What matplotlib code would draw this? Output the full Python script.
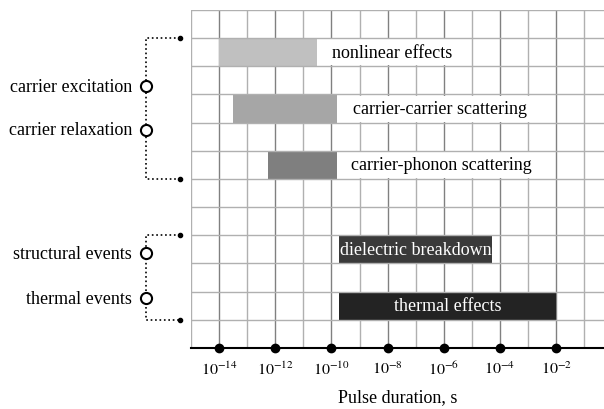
import matplotlib
matplotlib.use("Agg")
import matplotlib.pyplot as plt
import numpy as np

# 数据: 各过程的时间范围 (log10 秒)
processes = ['nonlinear effects', 'carrier-carrier scattering', 'carrier-phonon scattering',
             'dielectric breakdown', 'thermal effects']
start_exp = [-14.0, -13.5, -12.25, -9.73, -9.73]
end_exp = [-10.5, -9.8, -9.8, -4.3, -2.0]
row_y = [10, 8, 6, 3, 1]
bar_colors = ['#c0c0c0', '#a6a6a6', '#7f7f7f', '#3a3a3a', '#232323']
label_exp = [-9.98, -9.23, -9.3, -9.68, -5.85]
label_ha = ['left', 'left', 'left', 'left', 'center']
label_color = ['black', 'black', 'black', 'white', 'white']
label_box = [True, True, True, False, False]

# 左侧分组
group_labels = [['carrier excitation', 'carrier relaxation'],
                ['structural events', 'thermal events']]
group_label_y = [[9.3, 7.74], [3.37, 1.77]]
group_span = [(11, 6), (4, 1)]

tick_exp = [-14, -12, -10, -8, -6, -4, -2]
tick_labels = [r'$10^{%d}$' % e for e in tick_exp]

plt.rcParams['font.family'] = ['Liberation Serif', 'DejaVu Serif']
plt.rcParams['mathtext.fontset'] = 'stix'

fig = plt.figure(figsize=(6.04, 4.10), dpi=100)
ax = fig.add_axes([0.3162, 0.1488, 0.6838, 0.8244])
ax.set_xscale('log')
xmin, xmax = 1e-15, 10 ** -0.3
ax.set_xlim(xmin, xmax)
ax.set_ylim(0, 12)

# 网格
for e in range(-15, 0):
    c = '#808080' if e % 2 == 0 else '#b0b0b0'
    ax.axvline(10.0 ** e, color=c, lw=1.0, zorder=1)
for y in range(1, 13):
    ax.axhline(y, color='#b0b0b0', lw=1.0, zorder=4)

# 条形
for i in range(len(processes)):
    left = 10.0 ** start_exp[i]
    ax.barh(row_y[i] + 0.5, 10.0 ** end_exp[i] - left, left=left, height=1.0,
            color=bar_colors[i], zorder=2)
    kw = {}
    if label_box[i]:
        kw['bbox'] = dict(boxstyle='square,pad=0.25', facecolor='white', edgecolor='none')
    ax.text(10.0 ** label_exp[i], row_y[i] + 0.5, processes[i], ha=label_ha[i],
            va='center', fontsize=13, color=label_color[i], zorder=3, **kw)

# 坐标轴
for s in ['top', 'right', 'left']:
    ax.spines[s].set_visible(False)
ax.spines['bottom'].set_linewidth(1.5)
ax.spines['bottom'].set_zorder(5)
ax.set_yticks([])
ax.set_xticks([10.0 ** e for e in tick_exp])
ax.set_xticklabels(tick_labels, fontsize=11.5)
ax.xaxis.set_minor_locator(matplotlib.ticker.NullLocator())
ax.tick_params(axis='x', length=0, pad=9)
ax.plot([10.0 ** e for e in tick_exp + [0]], [0] * (len(tick_exp) + 1), 'o',
        color='black', ms=6, clip_on=False, zorder=6)
ax.set_xlabel('Pulse duration, s', fontsize=13, labelpad=7)

# 左侧括号
bx = 10 ** -16.6
dx = 10 ** -15.39
for g in range(len(group_labels)):
    y0, y1 = group_span[g]
    ax.plot([dx, bx, bx, dx], [y0, y0, y1, y1], ls=':', color='black', lw=1.2,
            clip_on=False, zorder=5)
    ax.plot([dx, dx], [y0, y1], 'o', color='black', ms=3, clip_on=False, zorder=6)
    for lab, ly in zip(group_labels[g], group_label_y[g]):
        ax.plot([bx], [ly], 'o', mfc='white', mec='black', mew=1.5, ms=8,
                clip_on=False, zorder=6)
        ax.annotate(lab, xy=(bx, ly), xytext=(-10, 0), textcoords='offset points',
                    ha='right', va='center', fontsize=13, annotation_clip=False)

fig.savefig('out.png', dpi=100)
